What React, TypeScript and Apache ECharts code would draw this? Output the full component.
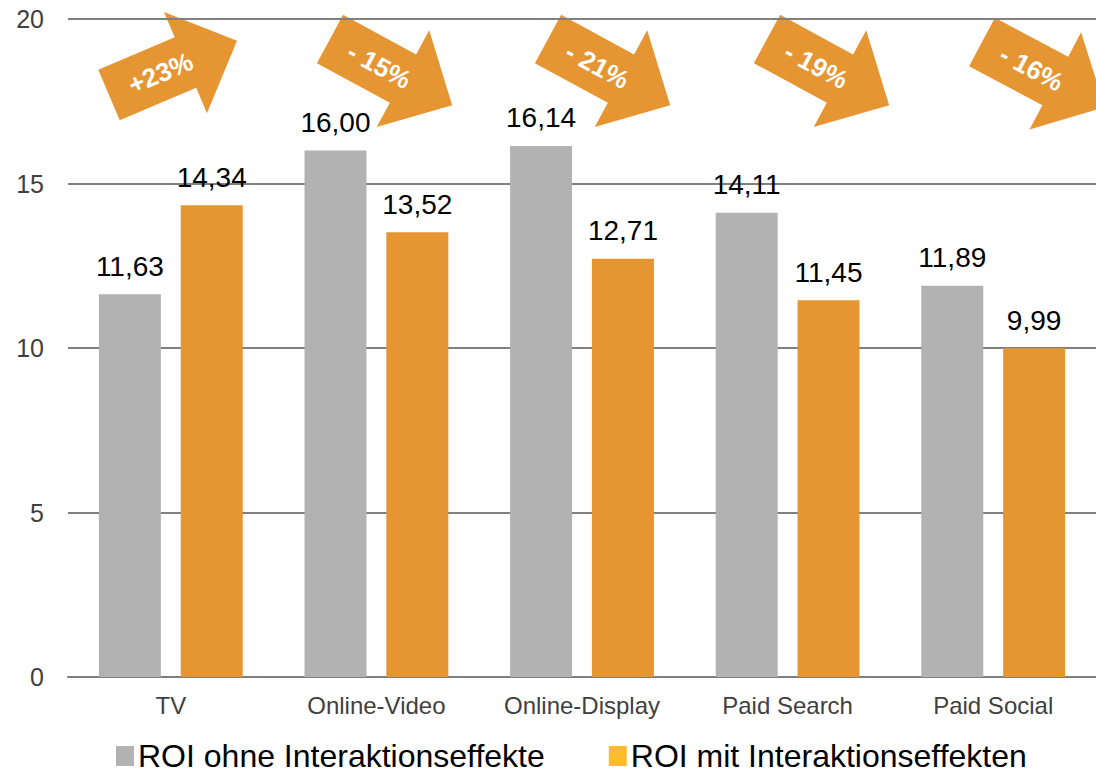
import React, { useEffect, useRef } from "react";
import * as echarts from "echarts";

const categories = ["TV", "Online-Video", "Online-Display", "Paid Search", "Paid Social"];
const seriesNames = ["ROI ohne Interaktionseffekte", "ROI mit Interaktionseffekten"];
const roiOhne = [11.63, 16.0, 16.14, 14.11, 11.89];
const roiMit = [14.34, 13.52, 12.71, 11.45, 9.99];
const changeLabels = ["+23%", "- 15%", "- 21%", "- 19%", "- 16%"];

// annotation arrow placement (left-edge centre of arrow body, angle in degrees, + = up)
const arrowPos = [
  { x: 109, y: 95, angle: 23 },
  { x: 330, y: 39, angle: -28.5 },
  { x: 548, y: 39, angle: -28.5 },
  { x: 767, y: 39, angle: -28.5 },
  { x: 982, y: 42, angle: -28 },
];

const GRAY = "#B2B2B2";
const ORANGE = "#E69533";
const LEGEND_YELLOW = "#FBBD2D";
const FONT = "'Liberation Sans', Arial, Helvetica, sans-serif";

let registered = false;
function registerArrow() {
  if (registered) return;
  registered = true;
  echarts.graphic.registerShape(
    "blockArrow",
    echarts.graphic.extendPath(
      "M0,-27.5 L83,-27.5 L83,-55 L139,0 L83,55 L83,27.5 L0,27.5 Z",
      {}
    ) as any
  );
}

const fmt = (v: number) => v.toFixed(2).replace(".", ",");

export default function App() {
  const ref = useRef<HTMLDivElement>(null);
  useEffect(() => {
    if (!ref.current) return;
    registerArrow();
    const chart = echarts.init(ref.current, null, { renderer: "svg" });
    const labelStyle = {
      show: true,
      position: "top" as const,
      distance: 14,
      color: "#000",
      fontSize: 28,
      fontFamily: FONT,
      formatter: (p: any) => fmt(p.value),
    };
    chart.setOption({
      animation: false,
      textStyle: { fontFamily: FONT },
      grid: { left: 68, right: 0, top: 19, bottom: 99, containLabel: false },
      legend: {
        left: 111,
        top: 735,
        icon: "rect",
        itemWidth: 18,
        itemHeight: 20,
        itemGap: 64,
        textStyle: {
          fontSize: 32,
          lineHeight: 32,
          color: "#000",
          fontFamily: FONT,
          padding: [0, 0, 0, -1],
        },
        data: [
          { name: seriesNames[0], itemStyle: { color: GRAY } },
          { name: seriesNames[1], itemStyle: { color: LEGEND_YELLOW } },
        ],
      },
      xAxis: {
        type: "category",
        data: categories,
        axisTick: { show: false },
        axisLine: { lineStyle: { color: "#7f7f7f", width: 2 } },
        axisLabel: { color: "#404040", fontSize: 24, margin: 16, fontFamily: FONT },
      },
      yAxis: {
        type: "value",
        min: 0,
        max: 20,
        interval: 5,
        axisLine: { show: false },
        axisTick: { show: false },
        axisLabel: { color: "#404040", fontSize: 25, margin: 24, fontFamily: FONT },
        splitLine: { lineStyle: { color: "#808080", width: 2 } },
      },
      series: [
        {
          name: seriesNames[0],
          type: "bar",
          data: roiOhne,
          barWidth: 62,
          barGap: "32%",
          itemStyle: { color: GRAY },
          label: labelStyle,
        },
        {
          name: seriesNames[1],
          type: "bar",
          data: roiMit,
          barWidth: 62,
          barGap: "32%",
          itemStyle: { color: ORANGE },
          label: labelStyle,
        },
      ],
      graphic: changeLabels.map((t, i) => ({
        type: "group",
        x: arrowPos[i].x,
        y: arrowPos[i].y,
        rotation: (arrowPos[i].angle * Math.PI) / 180,
        children: [
          { type: "blockArrow", x: 0, y: 0, style: { fill: ORANGE } },
          {
            type: "text",
            x: 56,
            y: 0,
            style: {
              text: t,
              fill: "#fff",
              fontSize: 26,
              fontWeight: "bold",
              fontFamily: FONT,
              align: "center",
              verticalAlign: "middle",
              textAlign: "center",
              textVerticalAlign: "middle",
            },
          },
        ],
      })),
    });
    return () => chart.dispose();
  }, []);
  return (
    <div
      ref={ref}
      style={{ position: "fixed", left: 0, top: 0, width: 1096, height: 776, background: "#fff" }}
    />
  );
}
